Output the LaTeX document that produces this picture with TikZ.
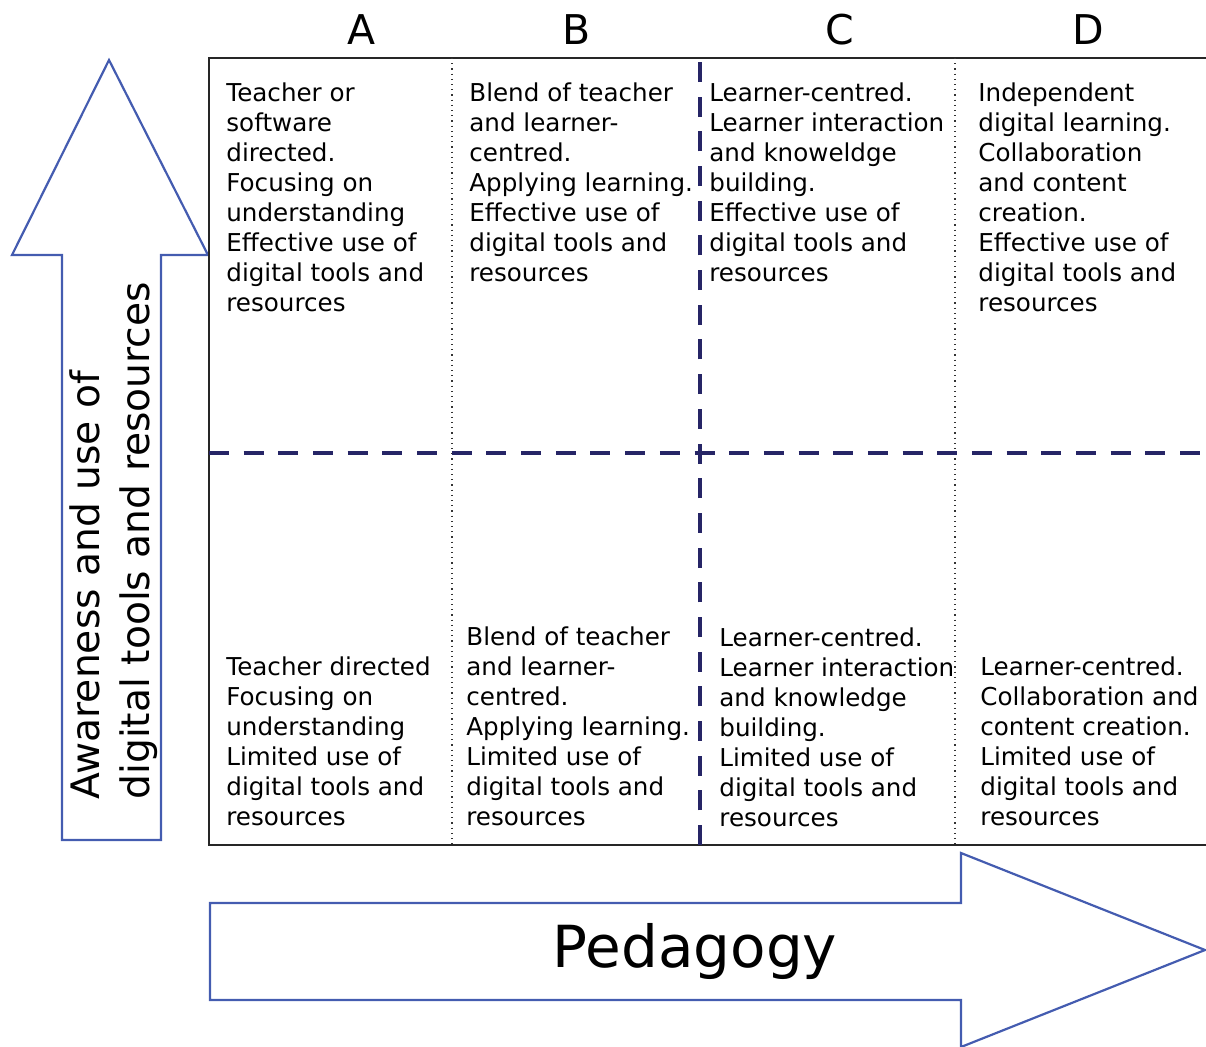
\documentclass[tikz,border=0pt]{standalone}
\usepackage{fontspec}
\setmainfont{DejaVu Sans}
\usepackage{tikz}
\usetikzlibrary{positioning}
\definecolor{arrowblue}{RGB}{68,92,176}
\definecolor{gridnavy}{RGB}{38,37,102}

\begin{document}
\begin{tikzpicture}[
    x=0.5pt, y=-0.5pt,
    cell/.style={anchor=north west, align=left, inner sep=0,
        font=\fontsize{12.3}{15}\selectfont},
    colhead/.style={inner sep=0, font=\fontsize{20.5}{24}\selectfont},
    bigarrow/.style={draw=arrowblue, line width=1.1pt, line join=miter},
    frame/.style={draw=black!85, line width=1.3pt},
    coldiv/.style={draw=black!80, line width=0.6pt, dotted},
    quadrant/.style={draw=gridnavy, line width=2pt, dash pattern=on 10pt off 7.34pt},
  ]
  \useasboundingbox (0,0) rectangle (1206,1046);

  \draw[bigarrow] (62,840) -- (62,255) -- (12,255) -- (109,60) -- (208,255)
    -- (161,255) -- (161,840) -- cycle;
  \draw[bigarrow] (210,903) -- (961,903) -- (961,853) -- (1205,950)
    -- (961,1047) -- (961,1000) -- (210,1000) -- cycle;

  \draw[frame] (1206,58) -- (209,58) -- (209,845) -- (1206,845);
  \foreach \x in {452,955} {
      \draw[coldiv] (\x,58) -- (\x,845);
    }
  \draw[quadrant] (700,845) -- (700,62);
  \draw[quadrant] (209,453) -- (1206,453);

  \foreach \x/\l in {362/A, 577/B, 840/C, 1088/D} {
      \node[colhead] (head\l) at (\x,30) {\l};
    }

  \node[cell] (topA) at (226,82)
  {Teacher or\\software\\directed.\\Focusing on\\understanding\\Effective use of\\digital tools and\\resources};
  \node[cell] (topB) at (469,82)
  {Blend of teacher\\and learner-\\centred.\\Applying learning.\\Effective use of\\digital tools and\\resources};
  \node[cell] (topC) at (709,82)
  {Learner-centred.\\Learner interaction\\and knoweldge\\building.\\Effective use of\\digital tools and\\resources};
  \node[cell] (topD) at (978,82)
  {Independent\\digital learning.\\Collaboration\\and content\\creation.\\Effective use of\\digital tools and\\resources};

  \node[cell] (lowA) at (226,656)
  {Teacher directed\\Focusing on\\understanding\\Limited use of\\digital tools and\\resources};
  \node[cell] (lowB) at (466,626)
  {Blend of teacher\\and learner-\\centred.\\Applying learning.\\Limited use of\\digital tools and\\resources};
  \node[cell] (lowC) at (719,627)
  {Learner-centred.\\Learner interaction\\and knowledge\\building.\\Limited use of\\digital tools and\\resources};
  \node[cell] (lowD) at (980,656)
  {Learner-centred.\\Collaboration and\\content creation.\\Limited use of\\digital tools and\\resources};

  \node[rotate=90, anchor=west, align=left, inner sep=0,
    font=\fontsize{19.6}{25}\selectfont]
  (awareness) at (114,800)
  {Awareness and use of\\digital tools and resources};

  \node[inner sep=0, font=\fontsize{29}{34}\selectfont]
  (pedagogy) at (695,951)
  {Pedagogy};
\end{tikzpicture}
\end{document}
